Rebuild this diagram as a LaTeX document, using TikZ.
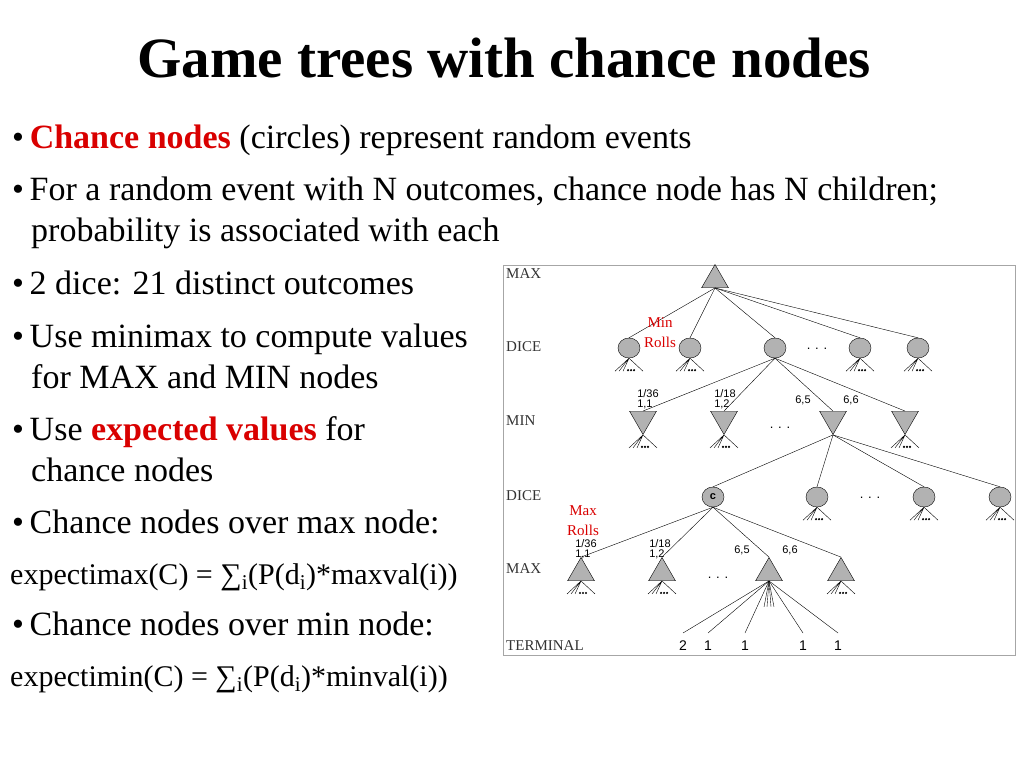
\documentclass[tikz,border=0pt]{standalone}
\usepackage{fontspec}
\setmainfont{Liberation Serif}
\setsansfont{Liberation Sans}
\usetikzlibrary{shapes.geometric,calc}
\newcommand\myfan[1]{\draw[thin] (#1) -- ++(-14,13) (#1) -- ++(-10,13) (#1) -- ++(-6,13) (#1) -- ++(14,13);
  \foreach \dx in {-1,2,5}{\fill ($(#1)+(\dx,12)$) circle (1.2);}}
\begin{document}
\begin{tikzpicture}[x=1pt,y=-1pt,
  body/.style={anchor=base west,inner sep=0,font=\fontsize{34}{36}\selectfont},
  small/.style={anchor=base west,inner sep=0,font=\fontsize{30}{32}\selectfont},
  lvl/.style={anchor=west,inner sep=0,font=\fontsize{15}{15}\selectfont,text=black!80},
  lab/.style={inner sep=0,font=\sffamily\fontsize{11}{10}\selectfont,align=left},
  red/.style={inner sep=0,font=\fontsize{15}{20}\selectfont,text=red!85!black,align=center},
  chance/.style={ellipse,draw,fill=gray!60,minimum width=22,minimum height=20,inner sep=0},
  maxn/.style={regular polygon,regular polygon sides=3,draw,fill=gray!60,minimum size=31,inner sep=0},
  minn/.style={maxn,shape border rotate=180},
  dots/.style={inner sep=0,font=\sffamily\fontsize{13}{13}\selectfont}]
\useasboundingbox (0,0) rectangle (1024,768);
\node[inner sep=0,font=\bfseries\fontsize{57}{60}\selectfont] (title) at (504,58) {Game trees with chance nodes};
\node[body] (t1) at (12,148) {•\,\textcolor{red!85!black}{\textbf{Chance nodes}} (circles) represent random events};
\node[body] (t2) at (12,200) {•\,For a random event with N outcomes, chance node has N children;};
\node[body] (t3) at (31,241) {probability is associated with each};
\node[body] (t4) at (12,294) {•\,2 dice: 21 distinct outcomes};
\node[body] (t5) at (12,347) {•\,Use minimax to compute values};
\node[body] (t6) at (31,388) {for MAX and MIN nodes};
\node[body] (t7) at (12,440) {•\,Use \textcolor{red!85!black}{\textbf{expected values}} for};
\node[body] (t8) at (31,481) {chance nodes};
\node[body] (t9) at (12,533) {•\,Chance nodes over max node:};
\node[small] (t10) at (10,584) {expectimax(C) = ∑\textsubscript{i}(P(d\textsubscript{i})*maxval(i))};
\node[body] (t11) at (12,635) {•\,Chance nodes over min node:};
\node[small] (t12) at (10,686) {expectimin(C) = ∑\textsubscript{i}(P(d\textsubscript{i})*minval(i))};
% tree box
\draw[gray!70,thick] (503,265) rectangle (1015,655);
\node[lvl] (l1) at (506,274) {MAX};
\node[lvl] (l2) at (506,347) {DICE};
\node[lvl] (l3) at (506,421) {MIN};
\node[lvl] (l4) at (506,496) {DICE};
\node[lvl] (l5) at (506,569) {MAX};
\node[lvl] (l6) at (506,646) {TERMINAL};
\node[maxn] (r) at (715,280) {};
\foreach \n/\x in {a/629,b/690,c/775,d/860,e/918}{\node[chance] (\n) at (\x,348) {};
  \draw (r.south) -- (\n.north);}
\foreach \n in {a,b,d,e}{\myfan{\n.south}}
\node[dots] (dd1) at (817,349) {. . .};
\node[red] (minr) at (660,333) {Min\\Rolls};
\foreach \n/\x in {m1/643,m2/724,m3/833,m4/905}{\node[minn] (\n) at (\x,419) {};
  \draw (c.south) -- (\n.north);}
\foreach \n in {m1,m2,m4}{\myfan{\n.south}}
\node[dots] (dd2) at (780,428) {. . .};
\node[lab] (p1) at (648,399) {1/36\\1,1};
\node[lab] (p2) at (725,399) {1/18\\1,2};
\node[lab] (p3) at (803,400) {6,5};
\node[lab] (p4) at (851,400) {6,6};
\node[chance] (C) at (713,497) {\sffamily\bfseries\fontsize{11}{11}\selectfont c};
\foreach \n/\x in {f/817,g/924,h/1000}{\node[chance] (\n) at (\x,497) {};\myfan{\n.south}}
\foreach \n in {C,f,g,h}{\draw (m3.south) -- (\n.north);}
\node[dots] (dd3) at (870,498) {. . .};
\node[red] (maxr) at (583,521) {Max\\Rolls};
\foreach \n/\x in {x1/581,x2/662,x3/769,x4/841}{\node[maxn] (\n) at (\x,573) {};
  \draw (C.south) -- (\n.north);}
\foreach \n in {x1,x2,x4}{\myfan{\n.south}}
\node[dots] (dd4) at (718,578) {. . .};
\node[lab] (q1) at (586,549) {1/36\\1,1};
\node[lab] (q2) at (660,549) {1/18\\1,2};
\node[lab] (q3) at (742,550) {6,5};
\node[lab] (q4) at (790,550) {6,6};
\foreach \n/\x/\v in {z1/683/2,z2/708/1,z3/745/1,z4/803/1,z5/838/1}{
  \node[inner sep=1,font=\sffamily\fontsize{14}{14}\selectfont] (\n) at (\x,646) {\v};
  \draw (x3.south) -- (\x,633);}
\foreach \d in {-5,-2,2,5}{\draw (x3.south) -- ++(\d,26);}
\end{tikzpicture}
\end{document}
